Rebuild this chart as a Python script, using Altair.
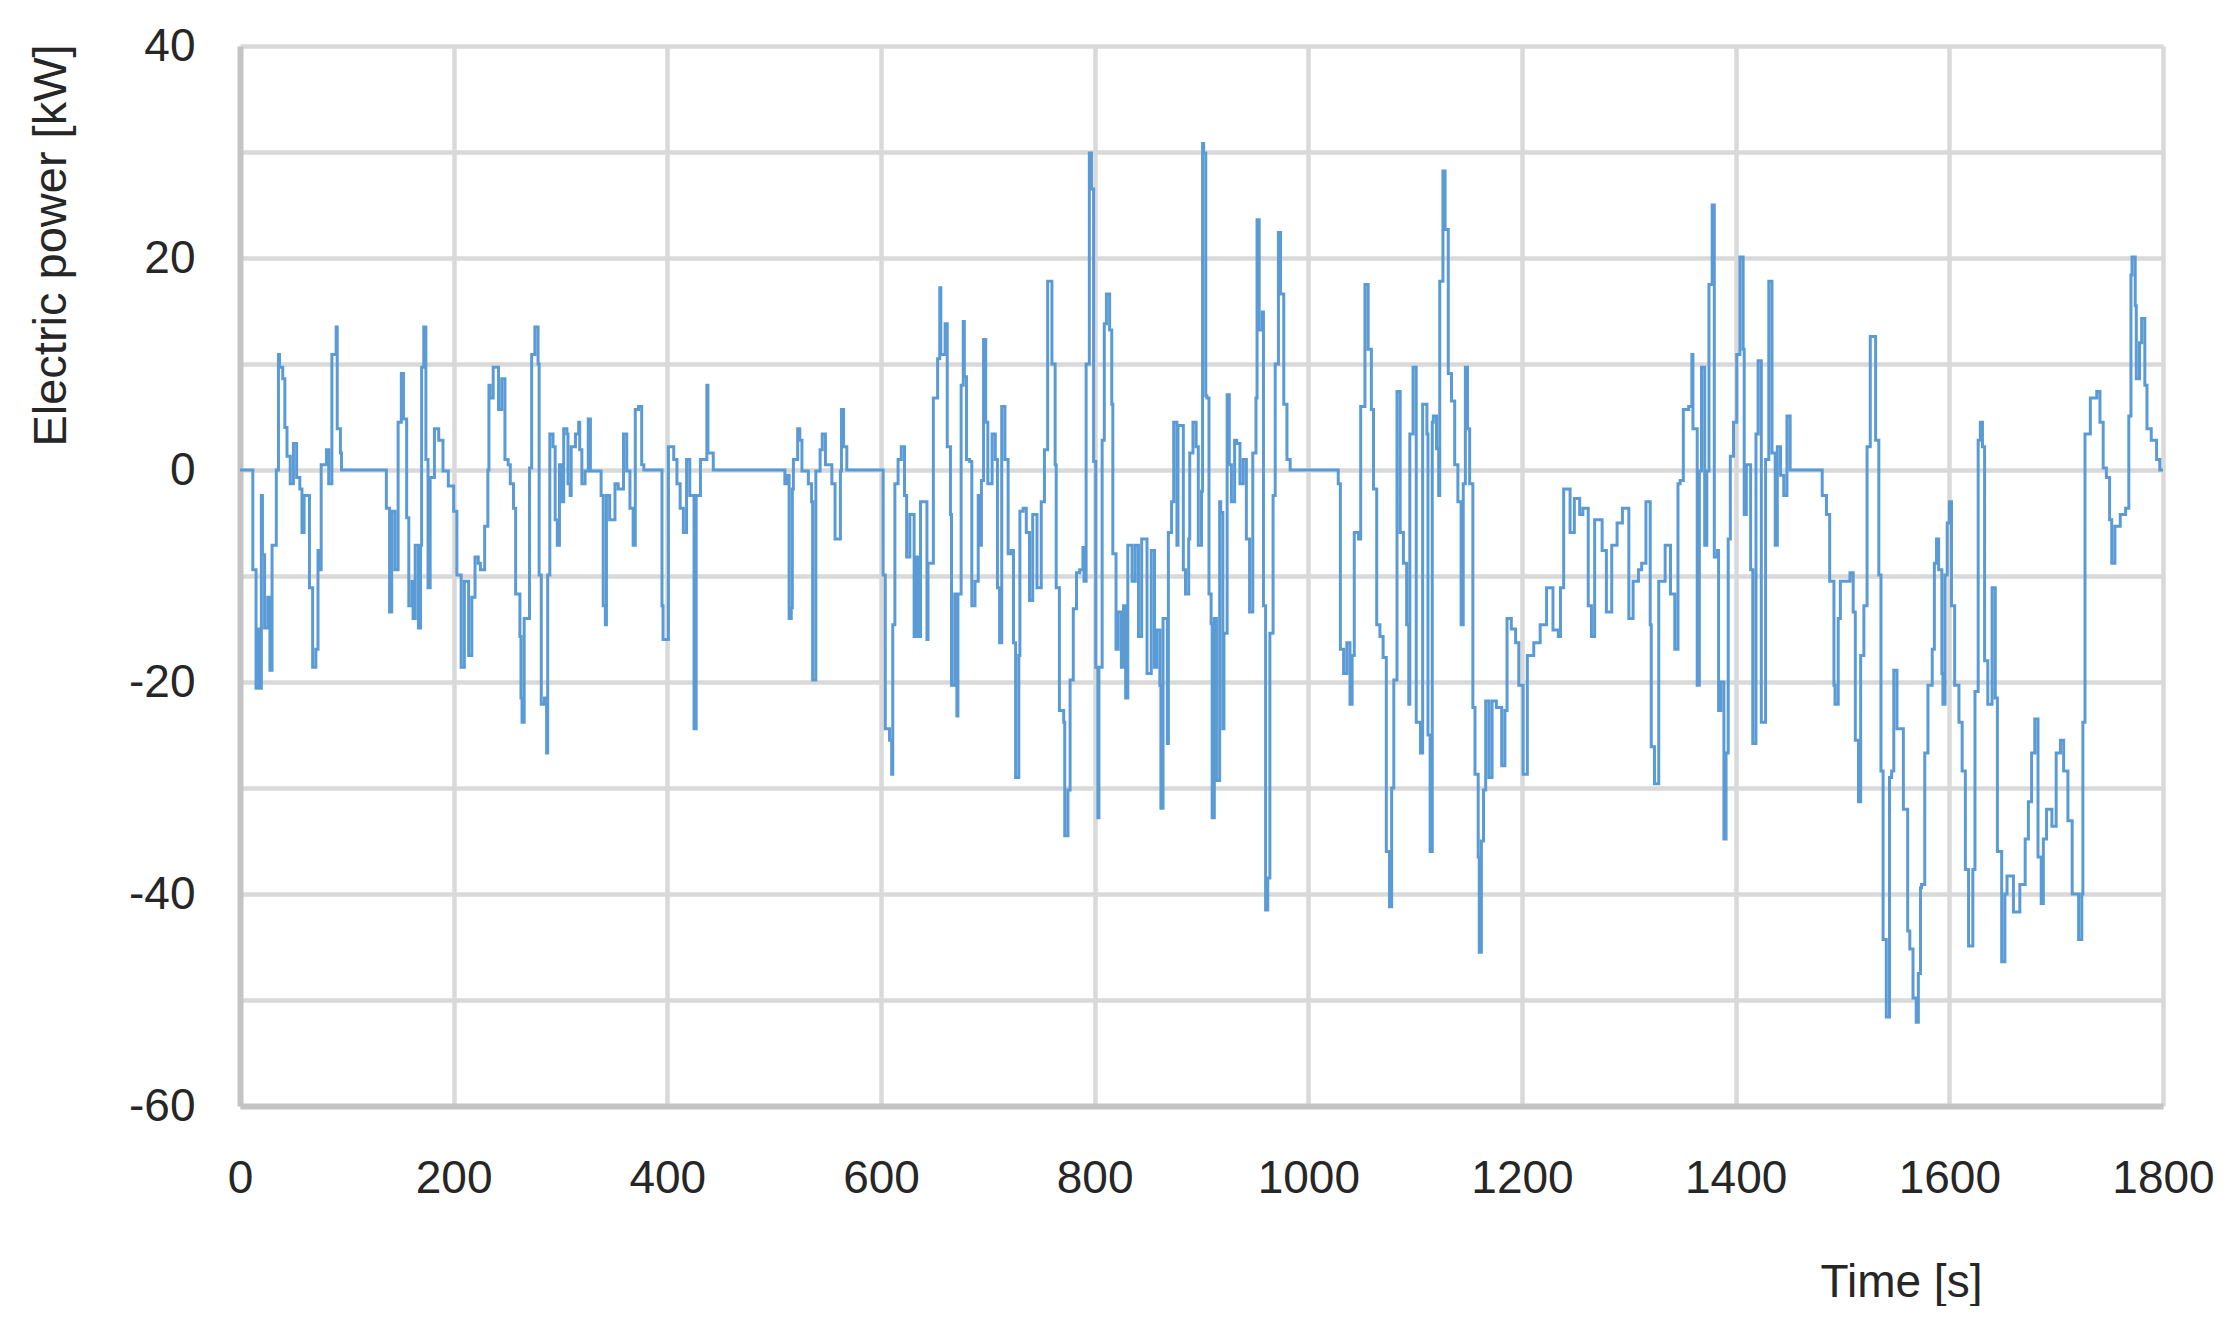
import altair as alt
import pandas as pd

# Time [s] and electric power [kW] (segment by segment)
t1 = [0, 11, 12, 14, 15, 17, 18, 20, 21, 23,
      26, 28, 30, 33, 34, 36, 37, 40, 42, 44,
      47, 50, 53, 56, 58, 60, 64, 65, 68, 71,
      73, 75, 76, 81, 83, 86, 90, 91, 94, 95,
      136, 137, 140, 142, 145, 148, 151, 153, 156, 158,
      161, 162, 164, 167, 169, 170, 172, 174, 176, 178,
      182, 186, 190, 195, 200, 203, 207, 210, 214, 217,
      220, 223]
p1 = [0, 0, -9.4, -9.4, -20.6, -15, -20.6, -2.4, -8, -14.9,
      -12, -18.9, -7.1, -7.1, 0, 10.9, 9.7, 8.6, 4, 1.3,
      -1.3, 2.5, -0.7, -1.8, -5.9, -2.4, -2.4, -11.1, -18.6, -16.9,
      -7.6, -9.4, 0.5, 1.9, -1.3, 10.9, 13.5, 3.9, 1.6, 0,
      0, -3.6, -13.4, -3.9, -9.4, 4.5, 9.1, 4.8, -4.5, -12.8,
      -10.5, -14, -7.1, -14.9, -7.1, 9.7, 13.5, 1.0, -11.1, -0.7,
      3.9, 2.8, -0.1, -1.5, -3.9, -9.9, -18.6, -10.5, -17.5, -12,
      -8.2, -8.8]

t2 = [225, 228, 229, 232, 233, 234, 237, 240, 242, 245,
      248, 251, 253, 256, 258, 262, 263, 264, 266, 270,
      271, 273, 276, 279, 280, 282, 285, 287, 288, 290,
      293, 295, 297, 299, 301, 303, 306, 307, 309, 310,
      314, 317, 318, 320, 323, 326, 328, 334, 338, 340,
      342, 343, 346, 351, 354, 359, 362, 365, 368, 370,
      373, 376, 378, 393, 395, 396, 401, 406, 409, 412,
      415, 418, 421, 425, 427, 431, 437, 438, 443]
p2 = [-9.4, -9.4, -5.3, 0, 8.0, 6.8, 9.7, 9.7, 5.7, 8.6,
      1.0, 0.5, -1.3, -3.6, -11.7, -15.7, -21.5, -23.8, -14, -14,
      0.2, 10.9, 13.5, 10.0, -9.9, -22.1, -21.5, -26.7, -9.9, 3.4,
      2.2, -4.7, -7.1, 0.5, -3.0, 3.9, 3.4, -1.3, -2.4, 2.2,
      3.4, 4.5, 1.9, -1.3, -0.1, 4.8, -0.1, -0.1, -2.4, -12.8,
      -14.6, -2.4, -4.7, -1.3, -1.8, 3.4, -0.1, -3.6, -7.1, 5.7,
      6.0, 0.5, 0, 0, -12.8, -16, 2.2, 1.0, -1.3, -3.6,
      -5.9, 1.0, -2.4, -24.4, -2.4, 1.0, 8.0, 1.6, 0]

t3 = [510, 512, 514, 516, 517, 518, 522, 524, 526, 532,
      535, 536, 537, 539, 543, 545, 548, 554, 557, 560,
      562, 563, 565, 568, 599, 602, 604, 608, 610, 611,
      613, 616, 619, 622, 624, 627, 631, 633, 635, 637,
      640, 643, 644, 648, 649, 653, 655, 656, 660, 662,
      665, 666, 669]
p3 = [-1.3, -0.5, -14, -13, -1.8, 1.0, 3.9, 2.8, -0.1, -1.3,
      -3.0, -19.8, -19.8, -0.1, 1.9, 3.4, 0.5, -1.3, -6.5, -6.5,
      -0.1, 5.7, 2.2, 0, 0, -9.9, -24.4, -25.5, -28.7, -14.6,
      -1.3, 1.0, 2.2, -2.4, -8.2, -4.2, -15.7, -8.2, -15.7, -3.0,
      -3.0, -16.0, -8.8, -8.8, 6.8, 10.5, 17.2, 10.9, 13.8, 2.2,
      -4.2, -20.3, -11.7]

t4 = [671, 672, 674, 675, 677, 678, 680, 683, 685, 688,
      691, 693, 694, 696, 698, 700, 704, 707, 709, 711,
      713, 716, 719, 722, 724, 726, 729, 730, 733, 736,
      739, 742, 746, 750, 753, 756, 760, 763, 764, 767,
      771, 772, 775, 777, 780, 783, 786, 789, 790, 792,
      795, 797, 799, 801, 803, 804, 807, 809, 811, 814,
      816, 817, 820, 822, 825, 827, 829, 831, 835, 838,
      841, 844, 849, 853, 856, 858, 861, 862, 864, 868,
      869, 872, 874, 877, 878, 883, 885, 888, 889, 892,
      895, 897]
p4 = [-23.2, -11.7, -11.7, 8.0, 14.0, 8.8, 1.0, 0.8, -12.8, -10.5,
      -2.4, -7.1, -1.0, 12.3, 4.5, -1.3, 3.4, 1.0, -11.1, -16.3,
      6.0, 1.0, -7.9, -7.6, -16.3, -29.0, -17.5, -3.9, -3.6, -5.9,
      -12.3, -4.2, -11.1, -3.0, 1.9, 17.8, 10.0, 0.5, -11.1, -22.7,
      -23.8, -34.5, -30.2, -19.8, -13.1, -9.7, -9.4, -7.3, -10.5, 10.0,
      29.9, 26.5, 0.8, -18.6, -32.8, -18.6, 2.8, 13.8, 16.6, 13.2,
      6.2, -7.9, -16.9, -13.4, -18.6, -12.8, -21.5, -7.1, -10.5, -7.1,
      -15.7, -6.5, -19.2, -7.6, -18.6, -15.1, -20.3, -31.9, -14.0, -25.8,
      -5.9, -3.0, 4.5, -7.1, 4.2, -9.4, -11.7, -6.5, 1.6, 4.5,
      2.2, -7.1]

t5 = [900, 901, 902, 904, 905, 907, 909, 910, 912, 914,
      916, 917, 918, 920, 921, 924, 926, 928, 931, 933,
      936, 939, 942, 945, 946, 948, 951, 952, 954, 957,
      958, 960, 962, 964, 967, 969, 970, 972, 974, 977,
      980, 983, 1025, 1028, 1030, 1033, 1036, 1039, 1041, 1043,
      1047, 1049, 1053, 1056, 1059, 1061, 1064, 1067, 1070, 1073,
      1076, 1078, 1080, 1083, 1086, 1089, 1092, 1094, 1095, 1098,
      1101, 1105, 1107, 1111, 1112, 1114]
p5 = [-2, 30.8, 29.9, 7.0, 6.8, -11.7, -14.5, -32.8, -14.0, -29.3,
      -29.3, -3.0, -4, -24.4, -15.4, 7.1, 0.5, -3.0, 2.8, 2.5,
      -1.3, 1.0, -6.5, -13.4, -13.4, 1.6, 6.8, 23.6, 13.2, 14.9,
      -12.8, -41.5, -38.5, -15.4, -2.4, 10.0, 10.0, 22.4, 16.6, 6.2,
      1.0, 0, 0, -1.3, -16.9, -19.2, -16.3, -22.1, -17.5, -5.9,
      -6.5, 6.0, 17.5, 11.4, 5.7, -1.8, -14.6, -15.7, -17.7, -36.0,
      -41.2, -30.0, -19.8, 7.4, -5.9, -8.8, -14.6, -22.1, 3.4, 9.7,
      -23.8, -26.7, 6.2, 3.4, -25.0, -36.0]

t6 = [1116, 1117, 1120, 1122, 1123, 1126, 1128, 1131, 1134, 1137,
      1140, 1143, 1145, 1147, 1149, 1151, 1154, 1156, 1159, 1160,
      1162, 1164, 1166, 1169, 1172, 1176, 1181, 1184, 1186, 1190,
      1194, 1197, 1201, 1205, 1211, 1217, 1223, 1229, 1234, 1236,
      1239, 1245, 1249, 1254, 1257, 1262, 1265, 1268, 1275, 1279,
      1284, 1289, 1294, 1300, 1304, 1309, 1312, 1316, 1320, 1321,
      1324, 1328, 1334, 1339, 1343, 1346]
p6 = [4.5, 5.1, 2.0, -2.4, 17.8, 28.2, 22.7, 9.1, 6.5, 0.5,
      -3.0, -14.6, -1.3, 9.7, 3.9, -1.3, -22.4, -28.7, -36.5, -45.5,
      -35, -30.2, -21.8, -29.0, -21.8, -22.4, -27.9, -22.7, -14.0, -15.0,
      -16.3, -20.3, -28.7, -17.5, -16.3, -14.6, -11.1, -15.1, -15.7, -11.1,
      -1.8, -5.9, -2.7, -4.2, -3.6, -12.8, -15.7, -4.7, -7.6, -13.4,
      -7.1, -5.0, -3.6, -14.0, -10.5, -9.4, -8.8, -3.0, -14.6, -26.1,
      -29.6, -10.5, -7.1, -11.7, -16.9, -1.3]

t7 = [1348, 1351, 1356, 1359, 1360, 1364, 1366, 1368, 1371, 1373,
      1375, 1378, 1380, 1383, 1384, 1386, 1389, 1391, 1393, 1395,
      1398, 1401, 1404, 1407, 1408, 1410, 1414, 1416, 1419, 1421,
      1424, 1428, 1431, 1434, 1437, 1439, 1442, 1445, 1448, 1451,
      1477, 1481, 1485, 1488, 1492, 1493, 1496, 1498, 1507, 1510,
      1512, 1515, 1517, 1520, 1523, 1526, 1531, 1534, 1536, 1538,
      1541, 1544, 1546, 1548, 1551, 1557, 1561, 1563, 1566, 1569,
      1571, 1573]
p7 = [-1.0, 5.7, 6.0, 10.9, 3.9, -20.3, -0.1, 9.7, -7.1, -0.1,
      17.5, 25.0, -8.2, -7.6, -22.7, -20.0, -34.8, -26.7, -6.5, 1.3,
      4.5, 10.9, 20.1, 11.4, -4.2, 0.5, -9.4, -25.8, 3.4, 10.3,
      -23.8, 1.0, 17.8, 1.6, -7.1, 2.2, -0.5, -2.4, 5.1, 0,
      0, -2.4, -4.2, -10.5, -20.3, -22.1, -14, -10.5, -9.7, -13.4,
      -25.5, -31.3, -17.5, -12.8, 2.2, 12.6, 2.8, -9.9, -28.4, -44.3,
      -51.6, -29.0, -28.4, -18.9, -24.4, -32.0, -43.5, -45.2, -49.8, -52.1,
      -47.5, -39.4]

t8 = [1574, 1577, 1580, 1584, 1586, 1588, 1590, 1593, 1594, 1596,
      1598, 1600, 1602, 1605, 1609, 1612, 1615, 1618, 1622, 1624,
      1627, 1629, 1631, 1633, 1636, 1640, 1643, 1645, 1649, 1652,
      1654, 1660, 1666, 1671, 1674, 1677, 1680, 1683, 1686, 1688,
      1691, 1696, 1700, 1704, 1707, 1711, 1715, 1721, 1724, 1725,
      1727, 1732, 1738, 1741, 1744, 1747, 1750, 1752, 1755, 1760,
      1765, 1768, 1770, 1771, 1774, 1775, 1778, 1780, 1783, 1785,
      1789, 1794, 1797, 1800]
p8 = [-39.1, -26.7, -20.3, -16.9, -8.8, -6.5, -9.4, -19.2, -22.1, -9.9,
      -5.0, -3.0, -12.8, -20.3, -23.8, -28.4, -37.7, -44.9, -37.7, -20.9,
      2.8, 4.5, 2.2, -18.0, -22.1, -11.1, -21.5, -36.0, -46.4, -40.0,
      -38.3, -41.7, -39.1, -34.8, -31.3, -26.7, -23.5, -36.5, -40.9, -34.8,
      -32.0, -33.6, -26.7, -25.5, -28.4, -33.1, -40.0, -44.3, -40.0, -23.8,
      3.4, 6.8, 7.4, 4.5, 0.2, -0.7, -4.7, -8.8, -5.3, -4.2,
      -3.6, 5.1, 18.4, 20.1, 15.5, 8.6, 12, 14.3, 8.0, 3.9,
      2.8, 1.0, 0, 0]

x_ticks = [0, 200, 400, 600, 800, 1000, 1200, 1400, 1600, 1800]
y_grid = [-60, -50, -40, -30, -20, -10, 0, 10, 20, 30, 40]

times, powers = [], []
for tt, pp in [(t1, p1), (t2, p2), (t3, p3), (t4, p4), (t5, p5), (t6, p6), (t7, p7), (t8, p8)]:
    assert len(tt) == len(pp), (len(tt), len(pp), tt[0])
    times += tt
    powers += pp

df = pd.DataFrame({"time": times, "power": powers})

FONT = "Liberation Sans"
GRID = "#d9d9d9"

chart = alt.Chart(df).mark_line(
    color="#5b9bd5", strokeWidth=3, interpolate="step-after"
).encode(
    x=alt.X("time:Q",
            scale=alt.Scale(domain=[0, 1800], nice=False, zero=False),
            axis=alt.Axis(values=x_ticks, title="Time [s]", grid=True,
                          gridColor=GRID, gridWidth=4.5, ticks=False,
                          labelExpr="'' + datum.value",
                          domainColor="#c4c4c4", domainWidth=6,
                          labelFont=FONT, labelFontSize=46, labelColor="#262626",
                          labelPadding=50, labelFlush=False,
                          titleFont=FONT, titleFontSize=46, titleFontWeight="normal",
                          titleColor="#262626", titleX=1661, titleY=176,
                          titleAlign="center", titleBaseline="middle", titleAngle=0)),
    y=alt.Y("power:Q",
            scale=alt.Scale(domain=[-60, 40], nice=False, zero=False),
            axis=alt.Axis(values=y_grid, title="Electric power [kW]", grid=True,
                          gridColor=GRID, gridWidth=4.5, ticks=False,
                          labelExpr="datum.value % 20 == 0 ? '' + datum.value : ''",
                          domainColor="#c4c4c4", domainWidth=6,
                          labelFont=FONT, labelFontSize=46, labelColor="#262626",
                          labelPadding=45,
                          titleFont=FONT, titleFontSize=47, titleFontWeight="normal",
                          titleColor="#262626", titleX=-189, titleY=199,
                          titleAlign="center", titleBaseline="middle", titleAngle=270)),
).properties(
    width=1923,
    height=1060,
    autosize=alt.AutoSizeParams(type="none"),
    padding={"left": 232, "top": 38, "right": 60, "bottom": 200},
    background="white",
).configure_view(stroke=None)

chart.save("out.html", embed_options={"renderer": "svg", "actions": False})
